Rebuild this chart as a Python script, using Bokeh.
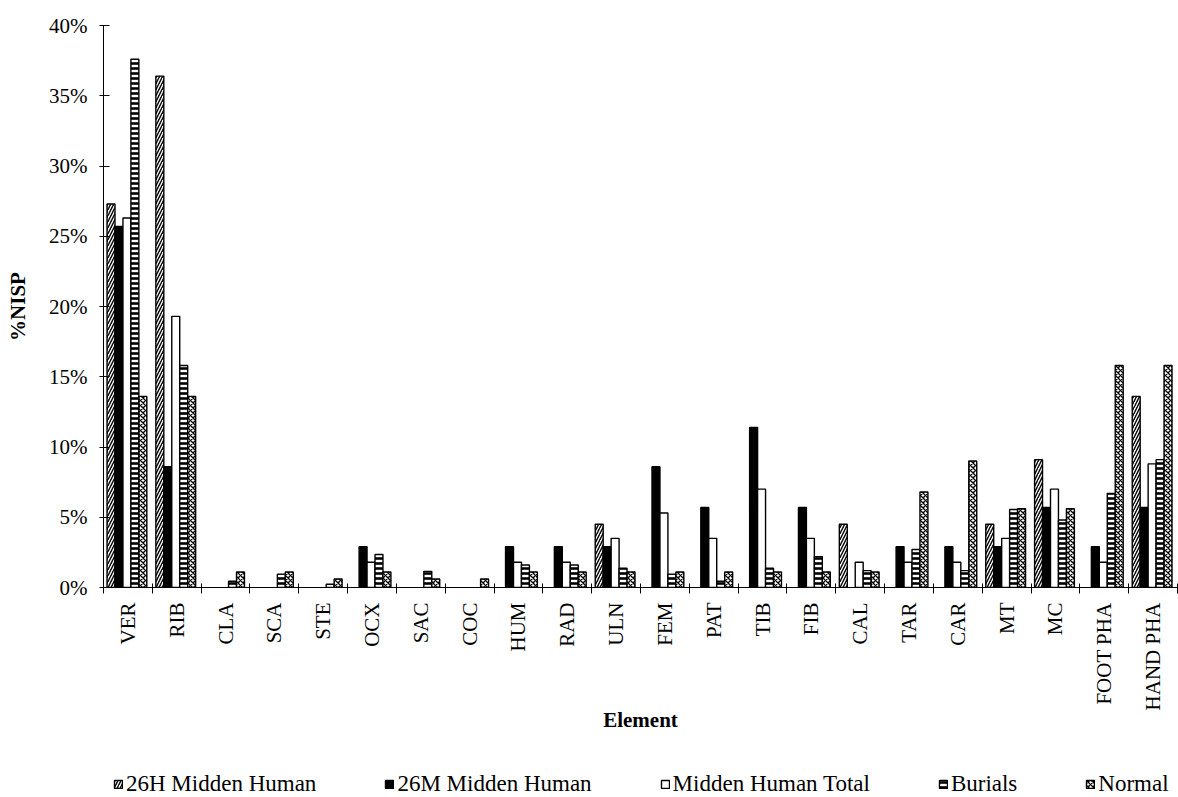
import numpy as np
from bokeh.plotting import figure
from bokeh.layouts import column
from bokeh.models import (ColumnDataSource, Range1d, FixedTicker, PrintfTickFormatter,
                          CustomJSTickFormatter, Legend, LegendItem)
from bokeh.embed import file_html
from bokeh.resources import INLINE

elements = ["VER", "RIB", "CLA", "SCA", "STE", "OCX", "SAC", "COC", "HUM", "RAD", "ULN",
            "FEM", "PAT", "TIB", "FIB", "CAL", "TAR", "CAR", "MT", "MC", "FOOT PHA", "HAND PHA"]

series_names = ["26H Midden Human", "26M Midden Human", "Midden Human Total", "Burials", "Normal"]

h26 = [27.3, 36.4, 0, 0, 0, 0, 0, 0, 0, 0, 4.5, 0, 0, 0, 0, 4.5, 0, 0, 4.5, 9.1, 0, 13.6]
m26 = [25.7, 8.6, 0, 0, 0, 2.9, 0, 0, 2.9, 2.9, 2.9, 8.6, 5.7, 11.4, 5.7, 0, 2.9, 2.9, 2.9, 5.7, 2.9, 5.7]
midden_total = [26.3, 19.3, 0, 0, 0, 1.8, 0, 0, 1.8, 1.8, 3.5, 5.3, 3.5, 7.0, 3.5, 1.8, 1.8, 1.8, 3.5, 7.0, 1.8, 8.8]
burials = [37.6, 15.8, 0.45, 0.95, 0.23, 2.35, 1.15, 0, 1.6, 1.6, 1.37, 0.95, 0.45, 1.37, 2.2, 1.2,
           2.7, 1.2, 5.55, 4.8, 6.7, 9.1]
normal = [13.6, 13.6, 1.1, 1.1, 0.6, 1.1, 0.6, 0.6, 1.1, 1.1, 1.1, 1.1, 1.1, 1.1, 1.1, 1.1,
          6.8, 9.0, 5.6, 5.6, 15.8, 15.8]

yticks = [0, 5, 10, 15, 20, 25, 30, 35, 40]

FONT = "Liberation Serif"

p = figure(width=1178, height=747, output_backend="svg", toolbar_location=None,
           x_range=Range1d(0, len(elements)), y_range=Range1d(0, 40),
           min_border_left=103, min_border_right=1, min_border_top=25, min_border_bottom=160)
p.outline_line_color = None
p.xgrid.grid_line_color = None
p.ygrid.grid_line_color = None

styles = [
    dict(fill_color="white", hatch_pattern="/", hatch_color="black", hatch_scale=6, hatch_weight=1.4),
    dict(fill_color="black"),
    dict(fill_color="white"),
    dict(fill_color="white", hatch_pattern="-", hatch_color="black", hatch_scale=5, hatch_weight=2.6),
    dict(fill_color="white", hatch_pattern="x", hatch_color="black", hatch_scale=5, hatch_weight=1.3),
]

bw = 0.163
sources = []
for j, vals in enumerate([h26, m26, midden_total, burials, normal]):
    idx = [i for i, v in enumerate(vals) if v > 0]
    src = ColumnDataSource(dict(x=[i + 0.48 + (j - 2) * bw for i in idx],
                                top=[vals[i] for i in idx]))
    sources.append(src)
    p.vbar(x="x", top="top", bottom=0, width=bw, source=src,
           line_color="black", line_width=1.4, **styles[j])

# x axis
xa = p.xaxis[0]
xa.ticker = FixedTicker(ticks=[i + 0.5 for i in range(len(elements))],
                        minor_ticks=list(range(len(elements) + 1)))
xa.formatter = CustomJSTickFormatter(args=dict(labels=elements),
                                     code="return labels[Math.floor(tick)];")
xa.major_label_orientation = np.pi / 2
xa.major_tick_line_color = None
xa.major_tick_out = 0
xa.major_tick_in = 0
xa.minor_tick_line_color = "black"
xa.minor_tick_in = 4
xa.minor_tick_out = 6
xa.major_label_standoff = 9
xa.major_label_text_font = FONT
xa.major_label_text_font_size = "21px"
xa.major_label_text_color = "black"
xa.axis_line_color = "black"
xa.axis_label = "Element"
xa.axis_label_text_font = FONT
xa.axis_label_text_font_size = "21px"
xa.axis_label_text_font_style = "bold"
xa.axis_label_text_color = "black"
xa.axis_label_standoff = -5

ya = p.yaxis[0]
ya.ticker = FixedTicker(ticks=yticks)
ya.formatter = PrintfTickFormatter(format="%d%%")
ya.minor_tick_line_color = None
ya.major_tick_in = 6
ya.major_tick_out = 4
ya.major_tick_line_color = "black"
ya.axis_line_color = "black"
ya.major_label_standoff = 12
ya.major_label_text_font = FONT
ya.major_label_text_font_size = "21px"
ya.major_label_text_color = "black"
ya.axis_label = "%NISP"
ya.axis_label_text_font = FONT
ya.axis_label_text_font_size = "21px"
ya.axis_label_text_font_style = "bold"
ya.axis_label_text_color = "black"
ya.axis_label_standoff = 16

# legend strip below the chart (its frame is aligned with the chart's frame);
# the series are attached here, hidden, only to carry the legend patches
pl = figure(width=1178, height=50, output_backend="svg", toolbar_location=None,
            x_range=Range1d(0, 1), y_range=Range1d(0, 1), x_axis_type=None, y_axis_type=None,
            min_border_left=0, min_border_right=0, min_border_top=0, min_border_bottom=0)
pl.outline_line_color = None
pl.xgrid.grid_line_color = None
pl.ygrid.grid_line_color = None
legend_renderers = []
for j, src in enumerate(sources):
    r = pl.vbar(x="x", top="top", bottom=0, width=bw, source=src,
                line_color="black", line_width=1.4, **styles[j])
    r.visible = False
    legend_renderers.append(r)

legend = Legend(items=[LegendItem(label=n, renderers=[r]) for n, r in zip(series_names, legend_renderers)],
                orientation="horizontal", location=(10, 0), spacing=68,
                glyph_width=10, glyph_height=10, label_standoff=3, padding=0, margin=0,
                border_line_color=None, background_fill_alpha=0,
                inactive_fill_alpha=0,
                label_text_font=FONT, label_text_font_size="23px", label_text_color="black")
pl.add_layout(legend, "center")

open("out.html", "w").write(file_html(column(p, pl, spacing=0), INLINE))
